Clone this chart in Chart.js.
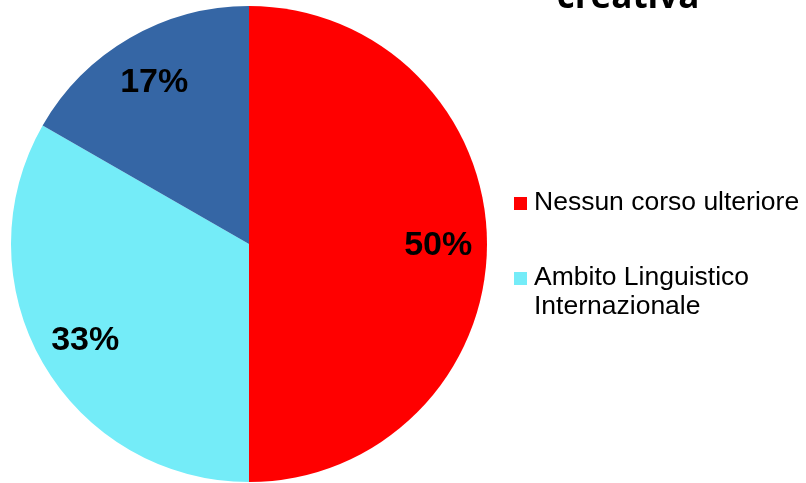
<!DOCTYPE html>
<html>
<head>
<meta charset="utf-8">
<script src="https://cdn.jsdelivr.net/npm/chart.js@4"></script>
<style>
  html, body { margin: 0; padding: 0; background: #fff; }
  #wrap { width: 806px; height: 483px; position: relative; }
</style>
</head>
<body>
<div id="wrap"><canvas id="pieChart" width="806" height="483"></canvas></div>
<script>
// data
const categories = ['Nessun corso ulteriore', 'Ambito Linguistico Internazionale', ''];
const legendLines = [['Nessun corso ulteriore'], ['Ambito Linguistico', 'Internazionale'], []];
const values = [50, 33.3, 16.7];
const percentLabels = ['50%', '33%', '17%'];
const colors = ['#ff0000', '#74ecf8', '#3566a5'];
const titleText = 'creativa';

document.addEventListener('DOMContentLoaded', function() {
    const canvas = document.getElementById('pieChart');
    const ctx = canvas.getContext('2d');

    // percent labels inside slices + side legend + clipped title
    const extras = {
        id: 'extras',
        afterDraw: function(chart) {
            const c = chart.ctx;
            const arcs = chart.getDatasetMeta(0).data;
            c.save();
            c.fillStyle = '#000';
            c.font = 'bold 34px "Liberation Sans", Arial, sans-serif';
            c.textAlign = 'center';
            c.textBaseline = 'middle';
            arcs.forEach(function(arc, i) {
                const mid = (arc.startAngle + arc.endAngle) / 2;
                const r = arc.outerRadius * 0.795;
                c.fillText(percentLabels[i], arc.x + Math.cos(mid) * r, arc.y + Math.sin(mid) * r + 2);
            });

            // legend
            c.textAlign = 'left';
            c.font = '26.5px "Liberation Sans", Arial, sans-serif';
            const itemTops = [203, 278];
            legendLines.forEach(function(lines, i) {
                if (!lines.length) return;
                const y = itemTops[i];
                c.fillStyle = colors[i];
                c.fillRect(514, y - 6, 13, 13);
                c.fillStyle = '#000';
                lines.forEach(function(line, j) {
                    c.fillText(line, 534, y + j * 29);
                });
            });

            // title, mostly cut off by the top edge
            c.textAlign = 'center';
            c.textBaseline = 'alphabetic';
            c.font = 'bold 35px "Open Sans", Arial, sans-serif';
            c.fillText(titleText, 628, 8);
            c.restore();
        }
    };

    new Chart(ctx, {
        type: 'pie',
        data: {
            labels: categories,
            datasets: [{
                data: values,
                backgroundColor: colors,
                borderWidth: 0
            }]
        },
        options: {
            responsive: false,
            animation: false,
            layout: {
                padding: { left: 11, right: 319, top: 6, bottom: 1 }
            },
            plugins: {
                legend: { display: false },
                tooltip: { enabled: false }
            }
        },
        plugins: [extras]
    });
});
</script>
</body>
</html>
